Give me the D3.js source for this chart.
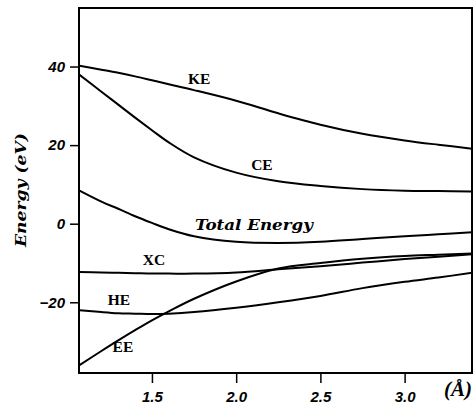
<!DOCTYPE html>
<html>
<head>
<meta charset="utf-8">
<script src="https://cdn.jsdelivr.net/npm/d3@7"></script>
<style>
  body { margin: 0; background: #fff; }
  svg { display: block; }
</style>
</head>
<body>
<div id="chart"></div>
<script>
const distances = [1.07, 1.2, 1.3, 1.4, 1.5, 1.6, 1.75, 2.0, 2.25, 2.5, 2.75, 3.0, 3.2, 3.4]

const keEnergy    = [40.2, 39.2, 38.4, 37.5, 36.5, 35.5, 34.0, 31.3, 28.1, 25.2, 22.9, 21.2, 20.1, 19.1]
const ceEnergy    = [37.9, 33.6, 30.3, 27.0, 23.8, 20.7, 16.9, 13.0, 10.8, 9.6, 8.8, 8.4, 8.3, 8.2]
const totalEnergy = [8.4, 5.6, 3.8, 1.9, 0.2, -1.4, -3.2, -4.6, -4.9, -4.6, -3.9, -3.2, -2.7, -2.2]
const xcEnergy    = [-12.3, -12.4, -12.5, -12.6, -12.7, -12.7, -12.7, -12.4, -11.6, -10.8, -9.9, -9.0, -8.4, -7.8]
const heEnergy    = [-22.0, -22.5, -22.8, -22.9, -23.0, -22.9, -22.5, -21.4, -20.0, -18.4, -16.4, -14.8, -13.7, -12.5]
const eeEnergy    = [-36.0, -32.4, -29.7, -27.1, -24.6, -22.3, -19.1, -14.7, -11.4, -10.0, -8.9, -8.2, -7.9, -7.6]

const xTicks = [1.5, 2.0, 2.5, 3.0]
const yTicks = [-20, 0, 20, 40]

const seriesList = [
    { name: "KE", values: keEnergy },
    { name: "CE", values: ceEnergy },
    { name: "Total Energy", values: totalEnergy },
    { name: "XC", values: xcEnergy },
    { name: "HE", values: heEnergy },
    { name: "EE", values: eeEnergy }
]

const width = 476, height = 405
const margin = { top: 8, right: 4, bottom: 32, left: 79 }
const innerW = width - margin.left - margin.right
const innerH = height - margin.top - margin.bottom

const svg = d3.select("#chart").append("svg")
    .attr("width", width)
    .attr("height", height)

const g = svg.append("g").attr("transform", `translate(${margin.left},${margin.top})`)

const x = d3.scaleLinear().domain([1.067, 3.4]).range([0, innerW])
const y = d3.scaleLinear().domain([-38, 54.9]).range([innerH, 0])

// clip so curves stay inside the box
svg.append("defs").append("clipPath").attr("id", "plotClip")
    .append("rect").attr("width", innerW).attr("height", innerH)

const line = d3.line()
    .x((d, i) => x(distances[i]))
    .y(d => y(d))
    .curve(d3.curveCatmullRom.alpha(0.5))

g.append("g").attr("clip-path", "url(#plotClip)")
    .selectAll("path")
    .data(seriesList)
    .enter()
    .append("path")
    .attr("d", d => line(d.values))
    .attr("fill", "none")
    .attr("stroke", "#000")
    .attr("stroke-width", 2)

// frame
g.append("rect")
    .attr("width", innerW)
    .attr("height", innerH)
    .attr("fill", "none")
    .attr("stroke", "#000")
    .attr("stroke-width", 2)

const xAxis = g.append("g")
    .attr("transform", `translate(0,${innerH})`)
    .call(d3.axisBottom(x).tickValues(xTicks).tickSize(10).tickSizeOuter(0).tickPadding(5).tickFormat(d3.format(".1f")))
xAxis.select(".domain").remove()

const yAxis = g.append("g")
    .call(d3.axisLeft(y).tickValues(yTicks).tickSize(9).tickSizeOuter(0).tickPadding(5)
        .tickFormat(d => d < 0 ? "\u2212" + Math.abs(d) : d))
yAxis.select(".domain").remove()

g.selectAll(".tick line").attr("stroke", "#000").attr("stroke-width", 1.5)
g.selectAll(".tick text")
    .attr("fill", "#000")
    .style("font-family", "'Liberation Sans', Arial, sans-serif")
    .style("font-size", "15px")
    .style("font-weight", "bold")
    .style("font-style", "italic")
xAxis.selectAll(".tick text").attr("dy", "0.9em")

// curve labels
const curveLabels = [
    { text: "KE", x: 1.78, y: 35.6 },
    { text: "CE", x: 2.153, y: 13.6 },
    { text: "XC", x: 1.512, y: -10.6 },
    { text: "HE", x: 1.304, y: -20.7 },
    { text: "EE", x: 1.328, y: -32.7 }
]
g.selectAll(".curveLabel")
    .data(curveLabels)
    .enter()
    .append("text")
    .attr("class", "curveLabel")
    .attr("x", d => x(d.x))
    .attr("y", d => y(d.y))
    .attr("text-anchor", "middle")
    .style("font-family", "'Liberation Serif', 'Times New Roman', serif")
    .style("font-size", "15.5px")
    .style("font-weight", "bold")
    .text(d => d.text)

g.append("text")
    .attr("x", x(1.755))
    .attr("y", y(-1.65))
    .attr("textLength", 118)
    .attr("lengthAdjust", "spacingAndGlyphs")
    .style("font-family", "'DejaVu Serif', serif")
    .style("font-size", "14px")
    .style("font-weight", "bold")
    .style("font-style", "italic")
    .text("Total Energy")

svg.append("text")
    .attr("transform", "translate(26,190) rotate(-90)")
    .attr("text-anchor", "middle")
    .attr("textLength", 114)
    .attr("lengthAdjust", "spacingAndGlyphs")
    .style("font-family", "'DejaVu Serif', serif")
    .style("font-size", "14px")
    .style("font-weight", "bold")
    .style("font-style", "italic")
    .text("Energy (eV)")

svg.append("text")
    .attr("x", 458)
    .attr("y", 396)
    .attr("text-anchor", "middle")
    .style("font-family", "'Liberation Serif', 'Times New Roman', serif")
    .style("font-size", "21px")
    .style("font-weight", "bold")
    .style("font-style", "italic")
    .text("(Å)")
</script>
</body>
</html>
